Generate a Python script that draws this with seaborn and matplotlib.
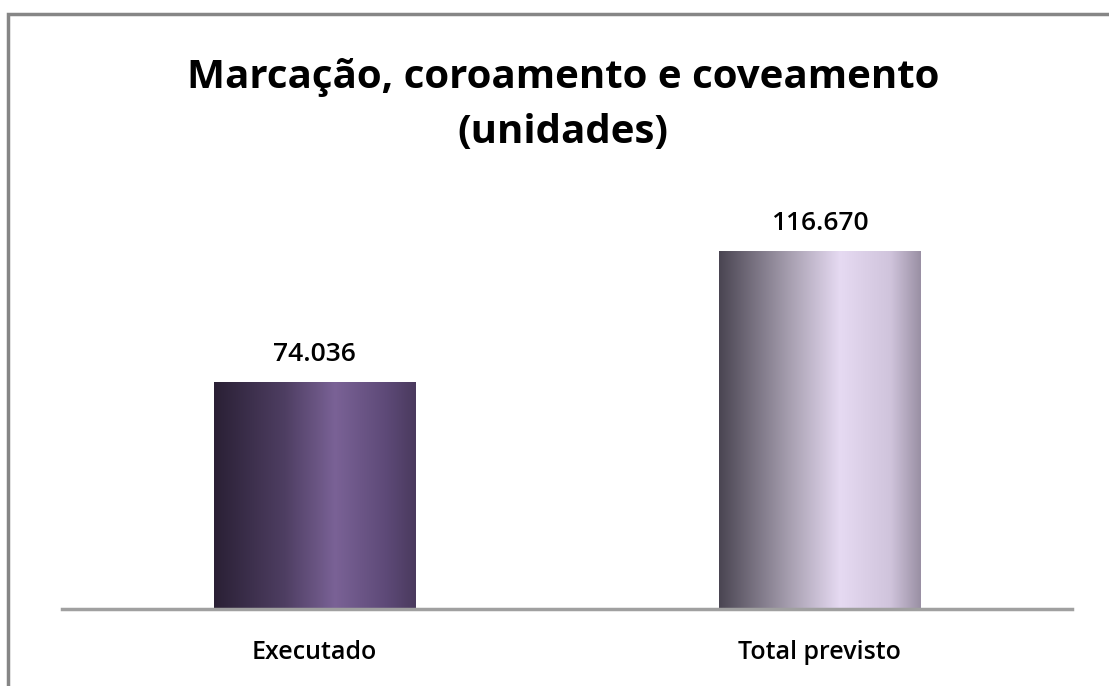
import numpy as np
import pandas as pd
import matplotlib.pyplot as plt
import seaborn as sns
from matplotlib.colors import LinearSegmentedColormap
from matplotlib.patches import Rectangle

# data
categories = ["Executado", "Total previsto"]
values = [74036, 116670]
value_labels = ["74.036", "116.670"]
title_lines = ["Marcação, coroamento e coveamento", "(unidades)"]

# gradient stops for each bar (left -> right, cylinder look)
bar_gradients = [
    ["#2a2035", "#4e3e62", "#7a6296", "#5e4a78", "#4a3a5e"],
    ["#4a4552", "#a79fb0", "#e6daf2", "#d0c4dc", "#9a90a4"],
]
gradient_pos = [0.0, 0.35, 0.6, 0.85, 1.0]

sns.set_style("white")
plt.rcParams['font.family'] = ['Open Sans', 'DejaVu Sans']
plt.rcParams['text.color'] = 'black'
plt.rcParams['xtick.color'] = 'black'

W, H = 1109, 686
fig = plt.figure(figsize=(W / 100, H / 100), dpi=100)
ax = fig.add_axes([62 / W, (H - 609) / H, (1072 - 62) / W, 429 / H])

df = pd.DataFrame({"cat": categories, "val": values})
sns.barplot(data=df, x="cat", y="val", ax=ax, width=0.4, color="white", linewidth=0)
ax.set_ylim(0, 140000)
ax.set_xlim(-0.5, 1.5)

# paint gradients inside each bar
for patch, stops in zip(ax.patches, bar_gradients):
    x0, y0 = patch.get_x(), patch.get_y()
    w, h = patch.get_width(), patch.get_height()
    cmap = LinearSegmentedColormap.from_list("bar", list(zip(gradient_pos, stops)))
    grad = np.linspace(0, 1, 256).reshape(1, -1)
    im = ax.imshow(grad, cmap=cmap, aspect="auto", extent=[x0, x0 + w, y0, y0 + h],
                   origin="lower", zorder=2)
    im.set_clip_path(patch)

for i, (v, lab) in enumerate(zip(values, value_labels)):
    ax.text(i, v + 7000, lab, ha="center", va="baseline", fontsize=19,
            fontweight="semibold", color="black")

for s in ["top", "right", "left"]:
    ax.spines[s].set_visible(False)
ax.spines["bottom"].set_color("#a0a0a0")
ax.spines["bottom"].set_linewidth(2.5)
ax.set_yticks([])
ax.set_xlabel("")
ax.set_ylabel("")
ax.tick_params(axis="x", length=0, pad=22, labelsize=18)
for t in ax.get_xticklabels():
    t.set_fontweight("semibold")

fig.text(563 / W, 1 - 88 / H, title_lines[0], ha="center", va="baseline",
         fontsize=29, fontweight="bold")
fig.text(563 / W, 1 - 143 / H, title_lines[1], ha="center", va="baseline",
         fontsize=29, fontweight="bold")

# outer chart frame
frame = Rectangle((8 / W, -0.1), 1.2, 1 - 14 / H + 0.1, transform=fig.transFigure,
                  fill=False, edgecolor="#868686", linewidth=2.5)
fig.patches.append(frame)

fig.savefig("out.png", dpi=100)
